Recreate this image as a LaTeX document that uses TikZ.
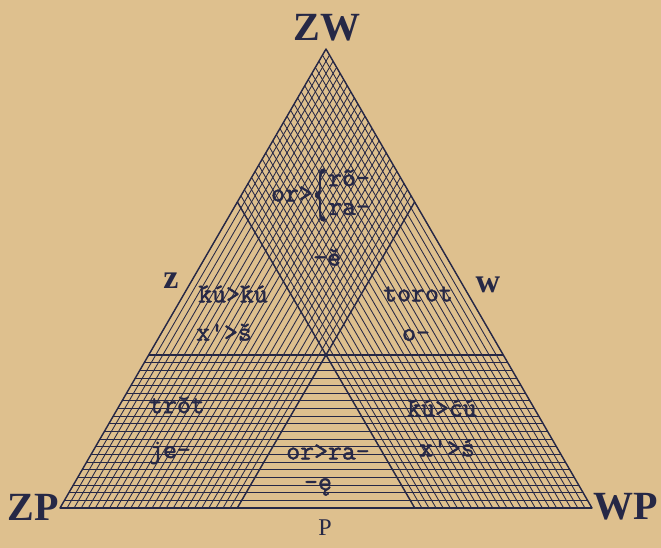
\documentclass[tikz,border=0pt]{standalone}
\usepackage{fontspec}
\usepackage{graphicx}
\setmainfont{Liberation Serif}
\setmonofont{Latin Modern Mono}[FakeBold=1.6]
\definecolor{paper}{RGB}{222,192,142}
\definecolor{ink}{RGB}{38,40,70}
\begin{document}
\begin{tikzpicture}[x=1pt, y=-1pt, line join=round,
    hatch/.style={ink, line width=0.85pt},
    edge/.style={ink, line width=1.4pt},
    dial/.style={font=\ttfamily\fontsize{27}{29}\selectfont, text=ink, inner sep=0pt},
    corner/.style={font=\bfseries\fontsize{40}{42}\selectfont, text=ink, inner sep=0pt},
    side/.style={font=\bfseries\fontsize{34}{36}\selectfont, text=ink, inner sep=0pt},
    small/.style={font=\fontsize{24}{26}\selectfont, text=ink, inner sep=0pt}]
  % 背景
  \fill[paper] (0,0) rectangle (661,548);
  \useasboundingbox (0,0) rectangle (661,548);

  % 顶点与分点
  \coordinate (T) at (326,49);
  \coordinate (L) at (60,508);
  \coordinate (R) at (592,508);
  \coordinate (A) at (237.33,202);
  \coordinate (B) at (414.67,202);
  \coordinate (C1) at (148.67,355);
  \coordinate (C2) at (503.33,355);
  \coordinate (Q1) at (414.67,508);
  \coordinate (Q2) at (237.33,508);

  % 阴影线
  \begin{scope}
    \clip (T) -- (B) -- (Q2) -- (L) -- cycle;
    \foreach \x in {53,60.09,...,232} \draw[hatch] (\x,520) -- ++(289.8,-500);
  \end{scope}
  \begin{scope}
    \clip (T) -- (A) -- (Q1) -- (R) -- cycle;
    \foreach \x in {599,591.91,...,420} \draw[hatch] (\x,520) -- ++(-289.8,-500);
  \end{scope}
  \begin{scope}
    \clip (C1) -- (C2) -- (R) -- (L) -- cycle;
    \foreach \y in {362.65,370.3,...,506} \draw[hatch] (0,\y) -- (661,\y);
  \end{scope}

  % 三角形与分界线
  \draw[edge] (T) -- (R) -- (L) -- cycle;
  \draw[ink, line width=2.6pt] (L) -- (R);
  \draw[edge] (A) -- (Q1);
  \draw[edge] (B) -- (Q2);
  \draw[edge] (C1) -- (C2);

  % 顶角与边的标注
  \node[corner] (zw) at (327,28) {ZW};
  \node[corner] (zp) at (33,507) {ZP};
  \node[corner] (wp) at (626,507) {WP};
  \node[side] (z) at (171,281) {z};
  \node[side] (w) at (488,285) {w};
  \node[small] (p) at (325,528) {P};

  % 各区的方言特征
  \node[dial, anchor=east] (orro) at (313,194) {or>};
  \node[dial] (brace) at (320,195) {\scalebox{0.9}[2.5]{\{}};
  \node[dial, anchor=west] (ro) at (328,178) {rõ-};
  \node[dial, anchor=west] (ra) at (328,209) {ra-};
  \node[dial] (jat) at (327,257) {-ě};
  \node[dial] (kuz) at (233,294) {\'k\'u>\'k\'u};
  \node[dial] (xz) at (224,332) {x'>š};
  \node[dial] (torot) at (418,294) {torot};
  \node[dial] (ow) at (416,335) {o-};
  \node[dial] (trot) at (177,405) {trŏt};
  \node[dial] (je) at (170,453) {je-};
  \node[dial] (orra) at (328,452) {or>ra-};
  \node[dial] (nas) at (318,487) {-ę};
  \node[dial] (kuw) at (442,408) {\'k\'u>ć\'u};
  \node[dial] (xw) at (447,448) {x'>ś};
\end{tikzpicture}
\end{document}
